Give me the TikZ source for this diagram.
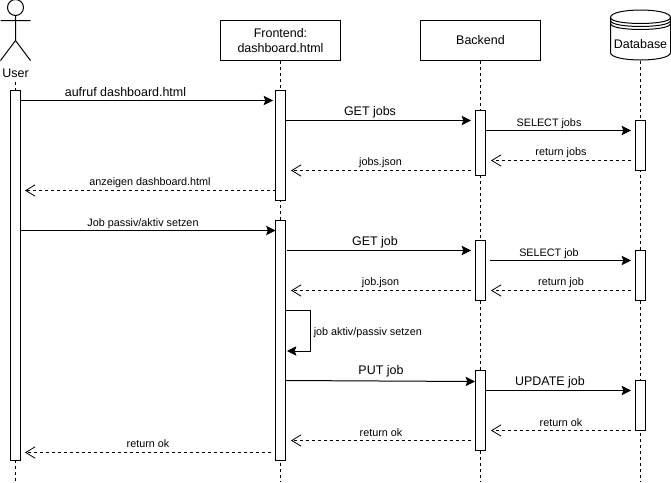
\documentclass[tikz,border=0pt]{standalone}
\usepackage{fontspec}
\setmainfont{Liberation Sans}
\usetikzlibrary{arrows.meta}
\tikzset{
  line/.style={line width=0.75pt,draw=black},
  head/.style={line,fill=white,minimum width=90pt,minimum height=30pt,inner sep=0pt,outer sep=0pt,font=\fontsize{9.35}{10.7}\selectfont,align=center},
  act/.style={line,fill=white,minimum width=7.5pt,inner sep=0pt,outer sep=0pt,anchor=north},
  life/.style={line,dash pattern=on 2.25pt off 2.25pt},
  sync/.style={line,-{Stealth[length=7pt,width=7pt,inset=1.2pt]}},
  back/.style={line,dash pattern=on 2.25pt off 2.25pt,-{Straight Barb[length=7pt,width=8.5pt,line width=0.6pt]}},
  big/.style={font=\fontsize{9.35}{11}\selectfont,inner sep=0pt,yshift=-0.75pt},
  small/.style={font=\fontsize{8.1}{10}\selectfont,inner sep=0pt,yshift=-1.5pt},
}
\newcommand{\actbox}[4]{% name, x, top, bottom
  \node[act,minimum height={(#4-#3)*0.75pt}] (#1) at (#2,#3) {};}
\newcommand{\msgline}[9]{% name, style, x1, y1, x2, y2, label style, lx, ly
  \coordinate (#1s) at (#3,#4);
  \coordinate (#1e) at (#5,#6);
  \draw[#2] (#1s) -- (#1e);
  \node[#7] (#1l) at (#8,#9)}
\begin{document}
\begin{tikzpicture}[x=0.75pt,y=-0.75pt]
\useasboundingbox (0,0) rectangle (671,482);
\fill[white] (0,0) rectangle (671,482);
% heads
\node[head] (fe) at (280.5,40.5) {Frontend:\\dashboard.html};
\node[head] (be) at (480.5,40.5) {Backend};
% database
\draw[line,fill=white] (610.5,17.5) .. controls (610.5,7.5) and (670.5,7.5) .. (670.5,17.5)
  -- (670.5,52.5) .. controls (670.5,62.5) and (610.5,62.5) .. (610.5,52.5) -- cycle;
\draw[line] (610.5,17.5) .. controls (610.5,25.5) and (670.5,25.5) .. (670.5,17.5);
\draw[line] (610.5,20.5) .. controls (610.5,28.5) and (670.5,28.5) .. (670.5,20.5);
\draw[line] (610.5,23.5) .. controls (610.5,31.5) and (670.5,31.5) .. (670.5,23.5);
\node[big] (db) at (640.5,43.5) {Database};
\coordinate (dbb) at (640.5,60.5);
% actor
\node[line,circle,minimum size=12pt,inner sep=0pt,outer sep=0pt] (uh) at (15.5,7.5) {};
\coordinate (uhip) at (15.5,40.5);
\coordinate (ularm) at (0.5,20.5);
\coordinate (urarm) at (30.5,20.5);
\coordinate (ullg) at (0.5,60.5);
\coordinate (urlg) at (30.5,60.5);
\draw[line] (uh.south) -- (uhip) (ularm) -- (urarm) (ullg) -- (uhip) -- (urlg);
\node[big] (u) at (15.5,72.5) {User};
% lifelines
\coordinate (ustart) at (15.5,82);
\coordinate (uend) at (15.5,481);
\coordinate (fend) at (280.5,481);
\coordinate (bend) at (480.5,481);
\coordinate (dend) at (640.5,481);
\draw[life] (ustart) -- (uend);
\draw[life] (fe.south) -- (fend);
\draw[life] (be.south) -- (bend);
\draw[life] (dbb) -- (dend);
% activations
\actbox{au}{15.5}{90.5}{460.5}
\actbox{af1}{280.5}{90.5}{200.5}
\actbox{af2}{280.5}{220.5}{460.5}
\actbox{ab1}{480.5}{110.5}{175.5}
\actbox{ab2}{480.5}{240.5}{300.5}
\actbox{ab3}{480.5}{370.5}{450.5}
\actbox{ad1}{640.5}{120.5}{170.5}
\actbox{ad2}{640.5}{250.5}{300.5}
\actbox{ad3}{640.5}{380.5}{430.5}
% messages
\msgline{m1}{sync}{20.5}{100.5}{273}{100.5}{big}{125.5}{91}{aufruf dashboard.html};
\msgline{m2}{sync}{285.5}{120.5}{471}{120.5}{big}{370}{111}{GET jobs};
\msgline{m3}{sync}{485.5}{130.5}{631}{130.5}{small}{549}{122}{SELECT jobs};
\msgline{m4}{back}{631}{160.5}{491}{160.5}{small}{561}{151}{return jobs};
\msgline{m5}{back}{471}{170.5}{291}{170.5}{small}{380.5}{161}{jobs.json};
\msgline{m6}{back}{275.5}{190.5}{25}{190.5}{small}{150}{181}{anzeigen dashboard.html};
\msgline{m7}{sync}{20.5}{230.5}{275.5}{230.5}{small}{143}{221.5}{Job passiv/aktiv setzen};
\msgline{m8}{sync}{287}{250.5}{471}{250.5}{big}{375}{241}{GET job};
\msgline{m9}{sync}{490}{260.5}{631}{260.5}{small}{549}{252}{SELECT job};
\msgline{m10}{back}{471}{290.5}{291}{290.5}{small}{380.5}{281}{job.json};
\msgline{m11}{back}{631}{290.5}{491}{290.5}{small}{561}{281}{return job};
\coordinate (s1) at (285.5,310.5);
\coordinate (s2) at (310.5,310.5);
\coordinate (s3) at (310.5,351);
\coordinate (s4) at (287,351);
\draw[sync] (s1) -- (s2) -- (s3) -- (s4);
\node[small,anchor=west] (sl) at (313.5,331) {job aktiv/passiv setzen};
\msgline{m12}{sync}{285.5}{380.5}{475}{381.5}{big}{381}{370.5}{PUT job};
\msgline{m13}{sync}{485.5}{390.5}{631}{390.5}{big}{550}{381}{UPDATE job};
\msgline{m14}{back}{631}{430.5}{491}{430.5}{small}{561}{421}{return ok};
\msgline{m15}{back}{471}{440.5}{291}{440.5}{small}{381}{431}{return ok};
\msgline{m16}{back}{271}{452.5}{25}{452.5}{small}{148}{442}{return ok};
\end{tikzpicture}
\end{document}
